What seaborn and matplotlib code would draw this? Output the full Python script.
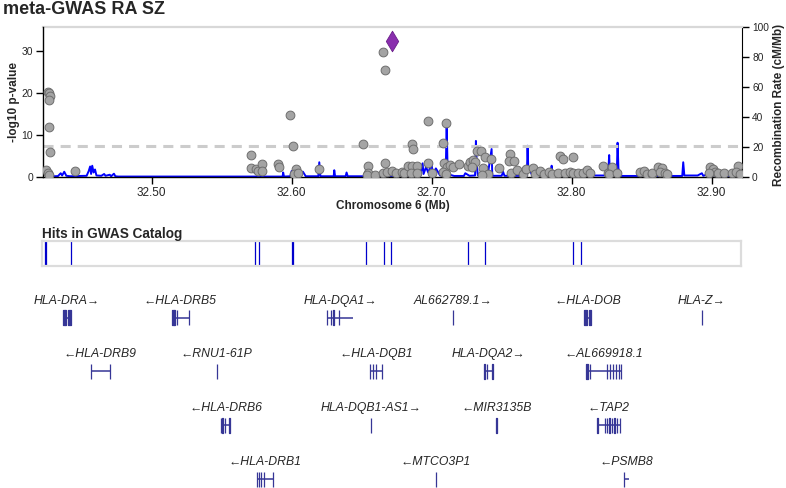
import matplotlib
matplotlib.use('Agg')
import matplotlib.pyplot as plt
import seaborn as sns
import pandas as pd

# ---- association results (position in Mb, -log10 p) ----
snp_pos = [32.4261, 32.4268, 32.4272, 32.4266, 32.4263, 32.4273, 32.4248, 32.4258, 32.4263, 32.4452,
           32.5707, 32.5707, 32.5745, 32.5762, 32.5785, 32.5785, 32.5899, 32.5911, 32.5987, 32.6007,
           32.6030, 32.6018, 32.6047, 32.6197, 32.6511, 32.6547, 32.6547, 32.6540, 32.6595, 32.6650,
           32.6666, 32.6666, 32.6655, 32.6678, 32.6714, 32.6745, 32.6785, 32.6800, 32.6828, 32.6861,
           32.6893, 32.6861, 32.6868, 32.6850, 32.6893, 32.6971, 32.6971, 32.6999, 32.7082, 32.7102,
           32.7090, 32.7107, 32.7130, 32.7080, 32.7100, 32.7154, 32.7197, 32.7261, 32.7273, 32.7292,
           32.7309, 32.7285, 32.7325, 32.7350, 32.7380, 32.7421, 32.7368, 32.7400, 32.7357, 32.7482,
           32.7559, 32.7554, 32.7590, 32.7566, 32.7607, 32.7654, 32.7673, 32.7725, 32.7737, 32.7773,
           32.7804, 32.7840, 32.7857, 32.7916, 32.7940, 32.8011, 32.7904, 32.7952, 32.7988, 32.8011,
           32.8047, 32.8082, 32.8107, 32.8130, 32.8225, 32.8257, 32.8290, 32.8270, 32.8321, 32.8487,
           32.8518, 32.8535, 32.8571, 32.8571, 32.8618, 32.8643, 32.8630, 32.8666, 32.8678, 32.8988,
           32.9011, 32.9023, 32.8980, 32.9047, 32.9087, 32.9142, 32.9189, 32.9173, 32.9202]
snp_logp = [20.3, 19.9, 19.2, 18.4, 11.8, 5.9, 1.7, 0.9, 0.4, 1.5,
            5.2, 2.2, 1.9, 1.4, 3.1, 1.4, 3.1, 2.3, 14.8, 7.5,
            1.8, 0.7, 0.9, 2.0, 7.8, 2.7, 0.9, 0.5, 0.4, 29.7,
            25.6, 3.4, 0.9, 1.3, 1.5, 1.0, 1.1, 1.0, 2.7, 2.7,
            2.7, 7.9, 6.7, 1.0, 1.0, 13.4, 3.4, 0.9, 8.2, 12.9,
            3.4, 2.5, 2.9, 1.3, 0.7, 2.5, 3.0, 2.7, 3.6, 4.0,
            3.5, 2.5, 6.3, 6.3, 4.8, 4.3, 2.1, 0.7, 0.5, 2.1,
            5.4, 3.8, 3.8, 0.9, 1.7, 0.7, 1.9, 2.1, 0.7, 1.5,
            0.7, 1.3, 0.6, 5.1, 4.2, 4.8, 0.9, 0.9, 1.3, 0.9,
            0.9, 0.9, 1.7, 0.9, 2.7, 0.9, 2.3, 0.8, 0.9, 1.3,
            1.5, 0.8, 0.7, 0.9, 2.5, 2.1, 1.2, 0.9, 0.7, 2.5,
            1.8, 1.2, 0.9, 0.9, 0.9, 0.9, 2.6, 1.2, 0.8]
lead_pos = [32.6714]
lead_logp = [32.5]

# ---- recombination rate (cM/Mb) ----
recomb_pos = [32.4221, 32.4245, 32.4250, 32.4255, 32.4265, 32.4275, 32.4300, 32.4330, 32.4350, 32.4360,
              32.4375, 32.4390, 32.4420, 32.4450, 32.4535, 32.4550, 32.4560, 32.4567, 32.4575, 32.4585,
              32.4595, 32.4605, 32.4640, 32.4660, 32.4670, 32.4700, 32.4710, 32.4730, 32.4740, 32.4760,
              32.5700, 32.5935, 32.5939, 32.5945, 32.5990, 32.6000, 32.6030, 32.6045, 32.6060, 32.6080,
              32.6100, 32.6190, 32.6197, 32.6205, 32.6300, 32.6304, 32.6310, 32.6385, 32.6392, 32.6400,
              32.6918, 32.6935, 32.6942, 32.6960, 32.6975, 32.6999, 32.7008, 32.7030, 32.7060, 32.7100,
              32.7107, 32.7114, 32.7130, 32.7160, 32.7230, 32.7240, 32.7270, 32.7310, 32.7316, 32.7322,
              32.7330, 32.7400, 32.7428, 32.7433, 32.7500, 32.7510, 32.7520, 32.7680, 32.7685, 32.7690,
              32.7720, 32.7852, 32.7857, 32.7862, 32.7990, 32.8100, 32.8260, 32.8268, 32.8272, 32.8285,
              32.8322, 32.8328, 32.8334, 32.8345, 32.8500, 32.8535, 32.8560, 32.8790, 32.8797, 32.8805,
              32.8900, 32.8930, 32.8940, 32.8980, 32.9000, 32.9220]
recomb_rate = [0.5, 4.5, 1.0, 1.2, 5.0, 0.8, 0.5, 0.6, 2.5, 1.0,
               3.5, 0.8, 0.5, 0.6, 0.8, 4.0, 7.0, 2.0, 7.5, 3.0,
               5.0, 1.0, 0.8, 2.0, 0.8, 1.5, 0.5, 2.2, 0.5, 0.3,
               0.3, 0.3, 3.0, 0.3, 0.5, 4.0, 1.0, 4.0, 0.8, 3.5,
               0.5, 0.5, 9.8, 0.5, 0.5, 4.5, 0.5, 0.5, 3.0, 0.5,
               0.5, 9.1, 2.0, 6.7, 3.0, 8.4, 2.0, 5.7, 1.0, 1.0,
               36.0, 3.0, 1.5, 0.7, 0.7, 2.5, 0.8, 1.0, 24.0, 8.0,
               1.0, 1.0, 18.6, 0.8, 0.8, 3.5, 0.8, 0.8, 20.8, 6.0,
               1.0, 1.0, 7.5, 0.7, 1.5, 1.0, 1.0, 14.6, 5.0, 1.0,
               1.0, 22.8, 6.0, 0.7, 0.7, 3.0, 0.7, 0.7, 9.8, 1.0,
               1.0, 2.5, 0.8, 2.0, 0.7, 0.7]

# ---- GWAS catalog hits (Mb) ----
catalog_pos = [32.4245, 32.4255, 32.4430, 32.5743, 32.5775, 32.6008, 32.6019, 32.6537,
               32.6666, 32.6716, 32.7270, 32.7389, 32.8018, 32.8072]

# ---- genes ----
gene_names = ['HLA-DRA', 'HLA-DRB5', 'HLA-DQA1', 'AL662789.1', 'HLA-DOB', 'HLA-Z',
              'HLA-DRB9', 'RNU1-61P', 'HLA-DQB1', 'HLA-DQA2', 'AL669918.1',
              'HLA-DRB6', 'HLA-DQB1-AS1', 'MIR3135B', 'TAP2',
              'HLA-DRB1', 'MTCO3P1', 'PSMB8']
gene_strand = ['+', '-', '+', '+', '-', '+',
               '-', '-', '-', '+', '-',
               '-', '+', '-', '-',
               '-', '-', '-']
gene_row = [0, 0, 0, 0, 0, 0, 1, 1, 1, 1, 1, 2, 2, 2, 2, 3, 3, 3]
gene_start = [32.4364, 32.5142, 32.6250, 32.7149, 32.8090, 32.8929,
              32.4564, 32.5463, 32.6560, 32.7377, 32.8102,
              32.5492, 32.6565, 32.7463, 32.8183,
              32.5752, 32.7029, 32.8374]
gene_end = [32.4421, 32.5268, 32.6440, 32.7151, 32.8136, 32.8930,
            32.4702, 32.5465, 32.6648, 32.7441, 32.8352,
            32.5566, 32.6567, 32.7464, 32.8345,
            32.5866, 32.7031, 32.8411]
gene_exons = [
    [(32.4364, 32.4377), (32.4383, 32.4388), (32.4405, 32.4421)],
    [(32.5142, 32.5156), (32.5162, 32.5165), (32.5178, 32.5180), (32.5265, 32.5268)],
    [(32.6250, 32.6252), (32.6278, 32.6280), (32.6297, 32.6299), (32.6336, 32.6338)],
    [(32.7149, 32.7151)],
    [(32.8090, 32.8106), (32.8121, 32.8136)],
    [(32.8929, 32.8930)],
    [(32.4564, 32.4566), (32.4700, 32.4702)],
    [(32.5463, 32.5465)],
    [(32.6560, 32.6562), (32.6579, 32.6581), (32.6601, 32.6603), (32.6646, 32.6648)],
    [(32.7377, 32.7383), (32.7393, 32.7395), (32.7434, 32.7441)],
    [(32.8102, 32.8114), (32.8129, 32.8131), (32.8251, 32.8253), (32.8272, 32.8274),
     (32.8294, 32.8296), (32.8315, 32.8317), (32.8336, 32.8338), (32.8350, 32.8352)],
    [(32.5492, 32.5495), (32.5505, 32.5507), (32.5520, 32.5522), (32.5555, 32.5557)],
    [(32.6565, 32.6567)],
    [(32.7463, 32.7464)],
    [(32.8183, 32.8185), (32.8237, 32.8239), (32.8251, 32.8253), (32.8269, 32.8271),
     (32.8287, 32.8289), (32.8305, 32.8307), (32.8322, 32.8324), (32.8343, 32.8345)],
    [(32.5752, 32.5754), (32.5765, 32.5767), (32.5779, 32.5781), (32.5801, 32.5803), (32.5864, 32.5866)],
    [(32.7029, 32.7031)],
    [(32.8374, 32.8377)],
]

xmin, xmax = 32.4221, 32.9219
font = ['Liberation Sans', 'DejaVu Sans']
sns.set_style('white')
plt.rcParams['font.family'] = font
gene_color = '#363696'

fig = plt.figure(figsize=(7.86, 4.88), dpi=100)

# ---------------- association panel ----------------
ax = fig.add_axes([0.0543, 0.6373, 0.8901, 0.3080])
ax2 = ax.twinx()
ax.set_zorder(ax2.get_zorder() + 1)
ax.patch.set_visible(False)

recomb_df = pd.DataFrame({'pos': recomb_pos, 'rate': recomb_rate})
sns.lineplot(data=recomb_df, x='pos', y='rate', ax=ax2, color='#0000ff', lw=1.4, sort=False)
ax2.set_ylim(0, 100)
ax2.set_yticks([0, 20, 40, 60, 80, 100])
ax2.set_ylabel('Recombination Rate (cM/Mb)', fontsize=8.5, fontweight='bold', va='center')
ax2.yaxis.set_label_coords(1.053, 0.48)

ax.axhline(7.3, color='#cccccc', lw=2.2, ls=(0, (3.3, 2.3)), zorder=1)
snp_df = pd.DataFrame({'pos': snp_pos, 'logp': snp_logp})
sns.scatterplot(data=snp_df, x='pos', y='logp', ax=ax, color='#a4a4a4',
                edgecolor='#6e6e6e', linewidth=0.7, s=40, zorder=3)
lead_df = pd.DataFrame({'pos': lead_pos, 'logp': lead_logp})
sns.scatterplot(data=lead_df, x='pos', y='logp', ax=ax, color='#8a2fae', marker='d',
                edgecolor='#6a1f8a', linewidth=0.6, s=110, zorder=4)

ax.set_xlim(xmin, xmax)
ax.set_ylim(0, 35.8)
ax.set_yticks([0, 10, 20, 30])
ax.set_xticks([32.5, 32.6, 32.7, 32.8, 32.9])
ax.set_xticklabels(['32.50', '32.60', '32.70', '32.80', '32.90'])
ax.set_ylabel('-log10 p-value', fontsize=8.5, fontweight='bold', va='center')
ax.yaxis.set_label_coords(-0.041, 0.5)
ax.set_xlabel('Chromosome 6 (Mb)', fontsize=8.5, fontweight='bold', va='center')
ax.xaxis.set_label_coords(0.5, -0.195)

for a in (ax, ax2):
    for s in a.spines.values():
        s.set_visible(False)
ax.spines['left'].set_visible(True)
ax.spines['bottom'].set_visible(True)
ax2.spines['right'].set_visible(True)
ax2.spines['top'].set_visible(True)
ax2.spines['top'].set_color('#d8d8d8')
ax2.spines['top'].set_linewidth(1.6)
for s in ('left', 'bottom'):
    ax.spines[s].set_color('black')
    ax.spines[s].set_linewidth(1.0)
ax2.spines['right'].set_color('black')
ax.tick_params(axis='both', length=5, width=1, color='black', pad=2, direction='out')
ax.tick_params(axis='x', bottom=True, labelsize=8.5)
ax.tick_params(axis='y', left=True, labelsize=7.5)
ax2.tick_params(axis='y', right=True, length=5, width=1, color='black', labelsize=7.3, pad=2)

fig.text(0.004, 1 - 9 / 488, 'meta-GWAS RA SZ', fontsize=13, fontweight='bold', va='center', ha='left')

# ---------------- GWAS catalog track ----------------
fig.text(42 / 786, 1 - 234 / 488, 'Hits in GWAS Catalog', fontsize=9.8, fontweight='bold',
         va='center', ha='left')
axc = fig.add_axes([0.0530, 0.4549, 0.8901, 0.0512])
axc.vlines(catalog_pos, 0, 1, color='#0000cc', lw=0.9)
axc.set_xlim(xmin, xmax)
axc.set_ylim(0, 1)
axc.set_xticks([])
axc.set_yticks([])
for s in axc.spines.values():
    s.set_color('#dcdcdc')
    s.set_linewidth(1.6)

# ---------------- genes track ----------------
axg = fig.add_axes([0.0543, 0.0, 0.8901, 203 / 488])
axg.set_xlim(xmin, xmax)
axg.set_ylim(3.167, -0.604)
axg.axis('off')
half = 7.5 / 53.8
for name, strand, row, start, end, exons in zip(gene_names, gene_strand, gene_row,
                                                  gene_start, gene_end, gene_exons):
    axg.hlines(row, start, end, color=gene_color, lw=1.1)
    axg.broken_barh([(e0, e1 - e0) for e0, e1 in exons], (row - half, 2 * half),
                    facecolors=gene_color, edgecolors=gene_color, linewidth=0.9)
    label = name + '\u2192' if strand == '+' else '\u2190' + name
    axg.text((start + end) / 2, row - 17 / 53.8, label, fontsize=8.8, style='italic',
             ha='center', va='center', family=font)

fig.savefig('out.png', dpi=100)
